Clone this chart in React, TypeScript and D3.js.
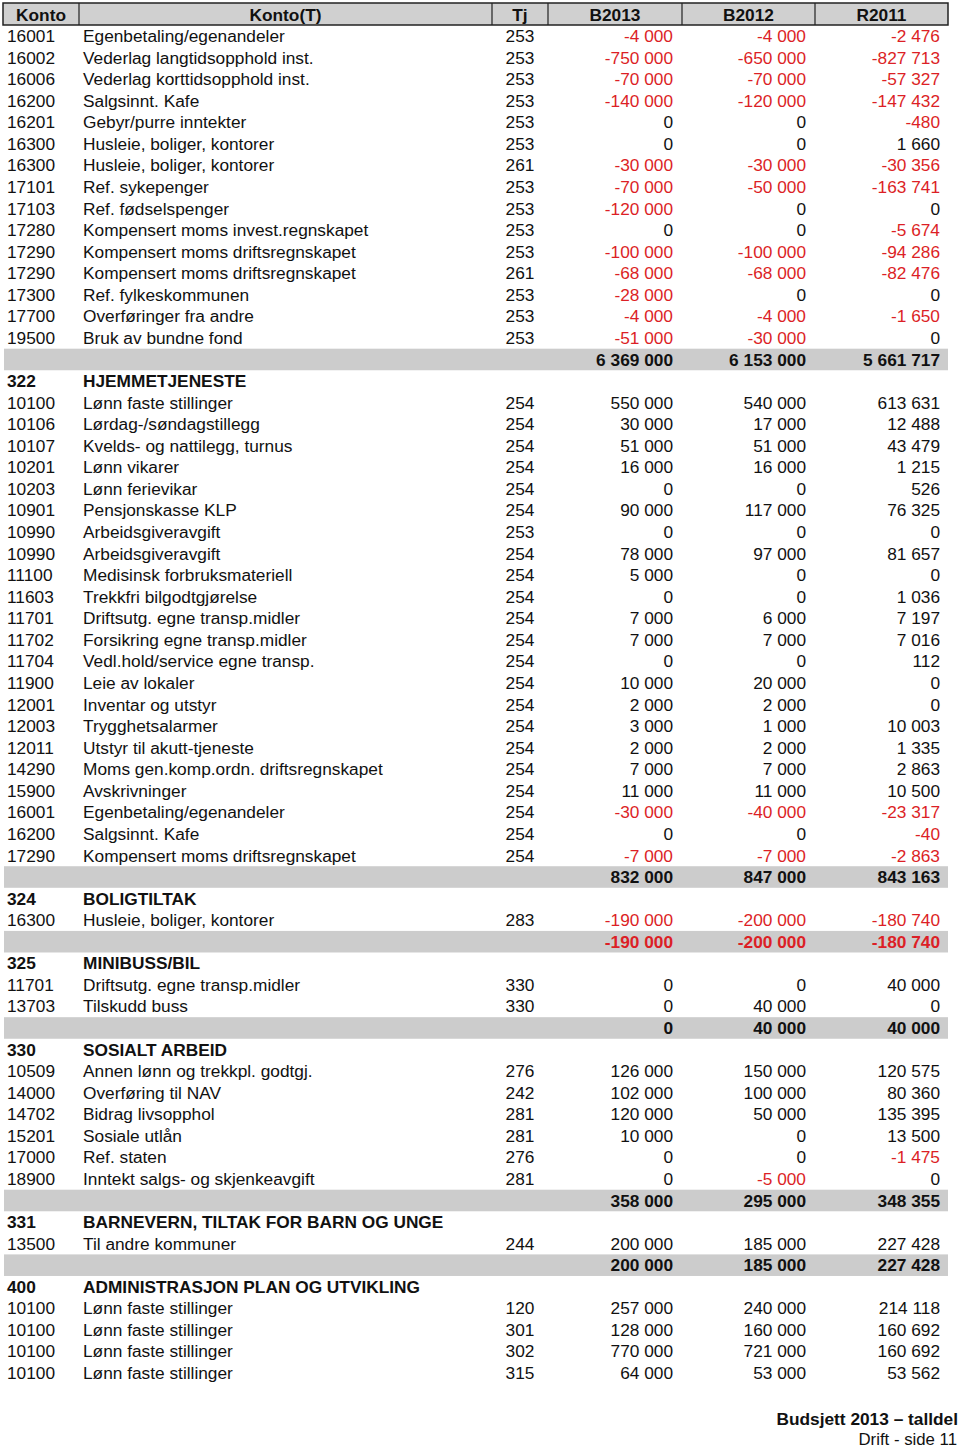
import React, { useRef, useEffect } from 'react'
import * as d3 from 'd3'

// columns of the header
const headers = ['Konto', 'Konto(T)', 'Tj', 'B2013', 'B2012', 'R2011']

// section 1 (continued from previous page)
const rowsStart = [
  ['16001', 'Egenbetaling/egenandeler', '253', -4000, -4000, -2476],
  ['16002', 'Vederlag langtidsopphold inst.', '253', -750000, -650000, -827713],
  ['16006', 'Vederlag korttidsopphold inst.', '253', -70000, -70000, -57327],
  ['16200', 'Salgsinnt. Kafe', '253', -140000, -120000, -147432],
  ['16201', 'Gebyr/purre inntekter', '253', 0, 0, -480],
  ['16300', 'Husleie, boliger, kontorer', '253', 0, 0, 1660],
  ['16300', 'Husleie, boliger, kontorer', '261', -30000, -30000, -30356],
  ['17101', 'Ref. sykepenger', '253', -70000, -50000, -163741],
  ['17103', 'Ref. fødselspenger', '253', -120000, 0, 0],
  ['17280', 'Kompensert moms invest.regnskapet', '253', 0, 0, -5674],
  ['17290', 'Kompensert moms driftsregnskapet', '253', -100000, -100000, -94286],
  ['17290', 'Kompensert moms driftsregnskapet', '261', -68000, -68000, -82476],
  ['17300', 'Ref. fylkeskommunen', '253', -28000, 0, 0],
  ['17700', 'Overføringer fra andre', '253', -4000, -4000, -1650],
  ['19500', 'Bruk av bundne fond', '253', -51000, -30000, 0],
]
const totalStart = [6369000, 6153000, 5661717]

const rows322 = [
  ['10100', 'Lønn faste stillinger', '254', 550000, 540000, 613631],
  ['10106', 'Lørdag-/søndagstillegg', '254', 30000, 17000, 12488],
  ['10107', 'Kvelds- og nattilegg, turnus', '254', 51000, 51000, 43479],
  ['10201', 'Lønn vikarer', '254', 16000, 16000, 1215],
  ['10203', 'Lønn ferievikar', '254', 0, 0, 526],
  ['10901', 'Pensjonskasse KLP', '254', 90000, 117000, 76325],
  ['10990', 'Arbeidsgiveravgift', '253', 0, 0, 0],
  ['10990', 'Arbeidsgiveravgift', '254', 78000, 97000, 81657],
  ['11100', 'Medisinsk forbruksmateriell', '254', 5000, 0, 0],
  ['11603', 'Trekkfri bilgodtgjørelse', '254', 0, 0, 1036],
  ['11701', 'Driftsutg. egne transp.midler', '254', 7000, 6000, 7197],
  ['11702', 'Forsikring egne transp.midler', '254', 7000, 7000, 7016],
  ['11704', 'Vedl.hold/service egne transp.', '254', 0, 0, 112],
  ['11900', 'Leie av lokaler', '254', 10000, 20000, 0],
  ['12001', 'Inventar og utstyr', '254', 2000, 2000, 0],
  ['12003', 'Trygghetsalarmer', '254', 3000, 1000, 10003],
  ['12011', 'Utstyr til akutt-tjeneste', '254', 2000, 2000, 1335],
  ['14290', 'Moms gen.komp.ordn. driftsregnskapet', '254', 7000, 7000, 2863],
  ['15900', 'Avskrivninger', '254', 11000, 11000, 10500],
  ['16001', 'Egenbetaling/egenandeler', '254', -30000, -40000, -23317],
  ['16200', 'Salgsinnt. Kafe', '254', 0, 0, -40],
  ['17290', 'Kompensert moms driftsregnskapet', '254', -7000, -7000, -2863],
]
const total322 = [832000, 847000, 843163]

const rows324 = [
  ['16300', 'Husleie, boliger, kontorer', '283', -190000, -200000, -180740],
]
const total324 = [-190000, -200000, -180740]

const rows325 = [
  ['11701', 'Driftsutg. egne transp.midler', '330', 0, 0, 40000],
  ['13703', 'Tilskudd buss', '330', 0, 40000, 0],
]
const total325 = [0, 40000, 40000]

const rows330 = [
  ['10509', 'Annen lønn og trekkpl. godtgj.', '276', 126000, 150000, 120575],
  ['14000', 'Overføring til NAV', '242', 102000, 100000, 80360],
  ['14702', 'Bidrag livsopphol', '281', 120000, 50000, 135395],
  ['15201', 'Sosiale utlån', '281', 10000, 0, 13500],
  ['17000', 'Ref. staten', '276', 0, 0, -1475],
  ['18900', 'Inntekt salgs- og skjenkeavgift', '281', 0, -5000, 0],
]
const total330 = [358000, 295000, 348355]

const rows331 = [
  ['13500', 'Til andre kommuner', '244', 200000, 185000, 227428],
]
const total331 = [200000, 185000, 227428]

const rows400 = [
  ['10100', 'Lønn faste stillinger', '120', 257000, 240000, 214118],
  ['10100', 'Lønn faste stillinger', '301', 128000, 160000, 160692],
  ['10100', 'Lønn faste stillinger', '302', 770000, 721000, 160692],
  ['10100', 'Lønn faste stillinger', '315', 64000, 53000, 53562],
]

const sections: any[] = [
  { code: null, title: null, rows: rowsStart, total: totalStart },
  { code: '322', title: 'HJEMMETJENESTE', rows: rows322, total: total322 },
  { code: '324', title: 'BOLIGTILTAK', rows: rows324, total: total324 },
  { code: '325', title: 'MINIBUSS/BIL', rows: rows325, total: total325 },
  { code: '330', title: 'SOSIALT ARBEID', rows: rows330, total: total330 },
  { code: '331', title: 'BARNEVERN, TILTAK FOR BARN OG UNGE', rows: rows331, total: total331 },
  { code: '400', title: 'ADMINISTRASJON PLAN OG UTVIKLING', rows: rows400, total: null },
]

const footerTitle = 'Budsjett 2013 – talldel'
const footerSub = 'Drift - side 11'

export default function App() {
  const svgRef = useRef<SVGSVGElement>(null)
  const width = 960
  const height = 1449
  const red = '#dc1f26'
  const font = '"Liberation Sans", Arial, Helvetica, sans-serif'
  const fs = 17.3

  useEffect(() => {
    const svg = d3.select(svgRef.current)
    svg.selectAll('*').remove()

    // flatten into lines
    const lines: any[] = []
    sections.forEach(s => {
      if (s.code) lines.push({ type: 'section', code: s.code, title: s.title })
      s.rows.forEach((r: any) => lines.push({ type: 'row', r }))
      if (s.total) lines.push({ type: 'total', vals: s.total })
    })

    const y = d3.scaleLinear().domain([0, lines.length - 1]).range([36, 1373])
    const rowH = y(1) - y(0)

    const fmt = (v: number) => d3.format(',')(v).replace(/,/g, ' ').replace('−', '-')
    const colX = [3, 79, 492, 548, 682, 815, 948]
    const valRight = [673, 806, 940]

    // header
    const head = svg.append('g')
    head.append('rect')
      .attr('x', colX[0]).attr('y', 3).attr('width', colX[6] - colX[0]).attr('height', 22)
      .attr('fill', '#d0d0d0').attr('stroke', '#222').attr('stroke-width', 1.5)
    colX.slice(1, 6).forEach(x => {
      head.append('line').attr('x1', x).attr('x2', x).attr('y1', 3).attr('y2', 25)
        .attr('stroke', '#222').attr('stroke-width', 1.2)
    })
    headers.forEach((h, i) => {
      head.append('text')
        .attr('x', (colX[i] + colX[i + 1]) / 2).attr('y', 14.5).attr('dy', '0.35em')
        .attr('text-anchor', 'middle').attr('font-weight', 'bold')
        .attr('font-size', fs).attr('font-family', font).attr('fill', '#111')
        .text(h)
    })

    const body = svg.append('g').attr('font-family', font).attr('font-size', fs)

    lines.forEach((l, i) => {
      const cy = y(i)
      if (l.type === 'total') {
        body.append('rect').attr('x', colX[0] + 1).attr('y', cy - rowH / 2)
          .attr('width', colX[6] - colX[0] - 1).attr('height', rowH).attr('fill', '#cccccc')
        l.vals.forEach((v: number, j: number) => {
          body.append('text').attr('x', valRight[j]).attr('y', cy).attr('dy', '0.35em')
            .attr('text-anchor', 'end').attr('font-weight', 'bold')
            .attr('fill', v < 0 ? red : '#111').text(fmt(v))
        })
      } else if (l.type === 'section') {
        body.append('text').attr('x', 7).attr('y', cy).attr('dy', '0.35em')
          .attr('font-weight', 'bold').attr('fill', '#111').text(l.code)
        body.append('text').attr('x', 83).attr('y', cy).attr('dy', '0.35em')
          .attr('font-weight', 'bold').attr('fill', '#111').text(l.title)
      } else {
        const r = l.r
        body.append('text').attr('x', 7).attr('y', cy).attr('dy', '0.35em').attr('fill', '#111').text(r[0])
        body.append('text').attr('x', 83).attr('y', cy).attr('dy', '0.35em').attr('fill', '#111').text(r[1])
        body.append('text').attr('x', 520).attr('y', cy).attr('dy', '0.35em')
          .attr('text-anchor', 'middle').attr('fill', '#111').text(r[2])
        ;[r[3], r[4], r[5]].forEach((v: number, j: number) => {
          body.append('text').attr('x', valRight[j]).attr('y', cy).attr('dy', '0.35em')
            .attr('text-anchor', 'end').attr('fill', v < 0 ? red : '#111').text(fmt(v))
        })
      }
    })

    // footer
    svg.append('text').attr('x', 958).attr('y', 1419).attr('dy', '0.35em')
      .attr('text-anchor', 'end').attr('font-family', font).attr('font-size', fs)
      .attr('font-weight', 'bold').attr('fill', '#111').text(footerTitle)
    svg.append('text').attr('x', 957).attr('y', 1439).attr('dy', '0.35em')
      .attr('text-anchor', 'end').attr('font-family', font).attr('font-size', fs - 0.5)
      .attr('fill', '#111').text(footerSub)
  }, [])

  return (
    <svg ref={svgRef} width={width} height={height}
      style={{ position: 'absolute', left: 0, top: 0, background: '#fff' }} />
  )
}
